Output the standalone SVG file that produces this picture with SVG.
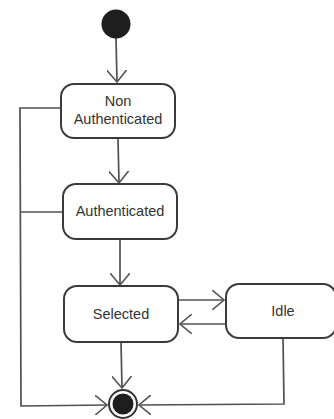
<svg xmlns="http://www.w3.org/2000/svg" width="334" height="419" viewBox="0 0 334 419">
  <defs>
    <marker id="open" viewBox="0 0 13 20" refX="12" refY="10" markerWidth="13" markerHeight="20" markerUnits="userSpaceOnUse" orient="auto">
      <path d="M0,0 L12,10 L0,20" fill="none" stroke="#555" stroke-width="1.6"/>
    </marker>
  </defs>
  <style>
    .state { fill: #fff; stroke: #3a3a3a; stroke-width: 2; }
    .label { font-family: "Liberation Sans", Arial, sans-serif; font-size: 14.5px; fill: #333; text-anchor: middle; }
    .edge { fill: none; stroke: #505050; stroke-width: 1.7; }
  </style>
  <rect width="334" height="419" fill="#fff"/>

  <g id="connectors">
    <line class="edge" x1="116" y1="38" x2="117" y2="82" marker-end="url(#open)"/>
    <line class="edge" x1="118" y1="139" x2="119" y2="183" marker-end="url(#open)"/>
    <line class="edge" x1="120" y1="240" x2="120" y2="285" marker-end="url(#open)"/>
    <line class="edge" x1="179" y1="300" x2="224" y2="300" marker-end="url(#open)"/>
    <line class="edge" x1="225" y1="324" x2="180" y2="324" marker-end="url(#open)"/>
    <line class="edge" x1="121" y1="342" x2="122" y2="388" marker-end="url(#open)"/>
    <polyline class="edge" points="60,108 20,108 21,406 107,405" marker-end="url(#open)"/>
    <line class="edge" x1="62" y1="212" x2="20" y2="212"/>
    <polyline class="edge" points="283,338 284,404 139,405" marker-end="url(#open)"/>
  </g>

  <g id="start">
    <circle cx="116" cy="24" r="14.5" fill="#1e1e1e"/>
  </g>

  <g id="non-authenticated">
    <rect class="state" x="61" y="84" width="114" height="54" rx="13"/>
    <text class="label" x="118" y="106">Non</text>
    <text class="label" x="118" y="124">Authenticated</text>
  </g>

  <g id="authenticated">
    <rect class="state" x="63" y="184" width="114" height="55" rx="13"/>
    <text class="label" x="120" y="216">Authenticated</text>
  </g>

  <g id="selected">
    <rect class="state" x="64" y="286" width="114" height="56" rx="13"/>
    <text class="label" x="121" y="319">Selected</text>
  </g>

  <g id="idle">
    <rect class="state" x="226" y="284" width="110" height="54" rx="13"/>
    <text class="label" x="283" y="316">Idle</text>
  </g>

  <g id="end">
    <circle cx="123" cy="404" r="14" fill="#fff" stroke="#333" stroke-width="2"/>
    <circle cx="123" cy="404" r="10.5" fill="#1e1e1e"/>
  </g>
</svg>
